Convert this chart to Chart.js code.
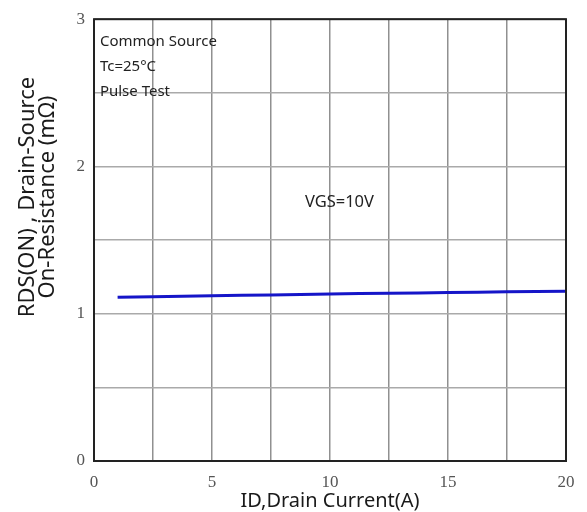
<!DOCTYPE html>
<html>
<head>
<meta charset="utf-8">
<script src="https://cdn.jsdelivr.net/npm/chart.js@4/dist/chart.umd.min.js"></script>
<style>
html,body{margin:0;padding:0;background:#fff;}
#wrap{width:587px;height:512px;}
</style>
</head>
<body>
<div id="wrap"><canvas id="c" width="587" height="512"></canvas></div>
<script>
// Data
const drainCurrent = [1, 2.5, 5, 7.5, 10, 12.5, 15, 17.5, 20];
const rdsOn = [1.112, 1.116, 1.122, 1.128, 1.134, 1.139, 1.144, 1.149, 1.153];
const xTickLabels = [0, 5, 10, 15, 20];
const yTickLabels = [0, 1, 2, 3];
const seriesLabel = 'VGS=10V';
const xTitle = 'ID,Drain Current(A)';
const yTitleLines = ['RDS(ON) , Drain-Source', 'On-Resistance (mΩ)'];
const noteLines = ['Common Source', 'Tc=25°C', 'Pulse Test'];

const sansFont = '"Noto Sans", "DejaVu Sans", sans-serif';

const decorPlugin = {
  id: 'decor',
  afterDraw(chart) {
    const ctx = chart.ctx;
    const a = chart.chartArea;
    const xs = chart.scales.x, ys = chart.scales.y;
    ctx.save();
    // frame
    ctx.strokeStyle = '#222';
    ctx.lineWidth = 2;
    ctx.strokeRect(a.left, a.top, a.right - a.left, a.bottom - a.top);
    // notes (top-left)
    ctx.fillStyle = '#222';
    ctx.font = '15px ' + sansFont;
    ctx.textAlign = 'left';
    ctx.textBaseline = 'middle';
    const nx = xs.getPixelForValue(0.25);
    const ny = [2.85, 2.68, 2.51];
    noteLines.forEach((t, i) => ctx.fillText(t, nx, ys.getPixelForValue(ny[i])));
    // series label
    ctx.textAlign = 'center';
    ctx.font = '16.5px ' + sansFont;
    ctx.fillText(seriesLabel, xs.getPixelForValue(10.4), ys.getPixelForValue(1.76));
    // x title
    ctx.font = '20px ' + sansFont;
    ctx.fillStyle = '#1a1a1a';
    ctx.fillText(xTitle, (a.left + a.right) / 2, 501);
    // y title
    ctx.font = '22px ' + sansFont;
    ctx.translate(0, 197);
    ctx.rotate(-Math.PI / 2);
    ctx.fillText(yTitleLines[0], 0, 28);
    ctx.fillText(yTitleLines[1], 0, 48);
    ctx.restore();
  }
};

new Chart(document.getElementById('c'), {
  type: 'line',
  data: {
    datasets: [{
      label: seriesLabel,
      data: drainCurrent.map((x, i) => ({x: x, y: rdsOn[i]})),
      borderColor: '#1515c8',
      borderWidth: 3,
      pointRadius: 0,
      tension: 0.3,
      fill: false
    }]
  },
  options: {
    responsive: false,
    animation: false,
    devicePixelRatio: 1,
    layout: {padding: {left: 0, top: 16, right: 21, bottom: 0}},
    plugins: {legend: {display: false}, tooltip: {enabled: false}},
    scales: {
      x: {
        type: 'linear', min: 0, max: 20,
        afterFit(s) { s.height = 51; },
        ticks: {
          stepSize: 2.5, padding: 11, maxRotation: 0, autoSkip: false,
          color: '#555',
          font: {family: '"Liberation Serif", "DejaVu Serif", serif', size: 17},
          callback: v => xTickLabels.includes(v) ? String(v) : ''
        },
        grid: {color: '#909090', lineWidth: 1.5, drawTicks: false},
        border: {display: false}
      },
      y: {
        type: 'linear', min: 0, max: 3,
        afterFit(s) { s.width = 94; },
        ticks: {
          stepSize: 0.5, padding: 9, autoSkip: false,
          color: '#555',
          font: {family: '"Liberation Serif", "DejaVu Serif", serif', size: 17},
          callback: v => yTickLabels.includes(v) ? String(v) : ''
        },
        grid: {color: '#aaa', lineWidth: 1.5, drawTicks: false},
        border: {display: false}
      }
    }
  },
  plugins: [decorPlugin]
});
</script>
</body>
</html>
